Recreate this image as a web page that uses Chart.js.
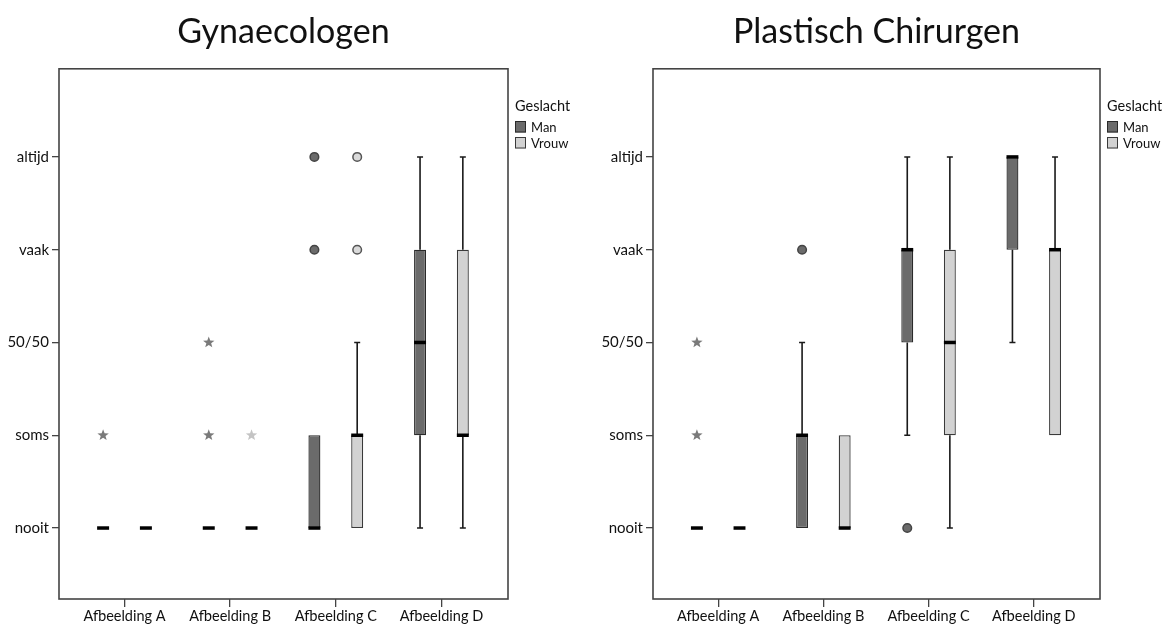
<!DOCTYPE html>
<html>
<head>
<meta charset="utf-8">
<script src="https://cdn.jsdelivr.net/npm/chart.js@4/dist/chart.umd.min.js"></script>
<style>
  body { margin: 0; background: #fff; }
  canvas { position: absolute; top: 0; }
  #gynChart { left: 0; }
  #plaChart { left: 583px; }
</style>
</head>
<body>
<canvas id="gynChart" width="583" height="630"></canvas>
<canvas id="plaChart" width="584" height="630"></canvas>
<script>
const categories = ["Afbeelding A", "Afbeelding B", "Afbeelding C", "Afbeelding D"];
// answer scale: 1 = nooit ... 5 = altijd
const answerTicks = ["nooit", "soms", "50/50", "vaak", "altijd"];
const groups = ["Man", "Vrouw"];

// Gynaecologen
const gynManMin = [1, 1, 1, 1];
const gynManQ1 = [1, 1, 1, 2];
const gynManMedian = [1, 1, 1, 3];
const gynManQ3 = [1, 1, 2, 4];
const gynManMax = [1, 1, 2, 5];
const gynManOutliers = [[], [], [4, 5], []];
const gynManExtremes = [[2], [2, 3], [], []];

const gynVrouwMin = [1, 1, 1, 1];
const gynVrouwQ1 = [1, 1, 1, 2];
const gynVrouwMedian = [1, 1, 2, 2];
const gynVrouwQ3 = [1, 1, 2, 4];
const gynVrouwMax = [1, 1, 3, 5];
const gynVrouwOutliers = [[], [], [4, 5], []];
const gynVrouwExtremes = [[], [2], [], []];

// Plastisch Chirurgen
const plaManMin = [1, 1, 2, 3];
const plaManQ1 = [1, 1, 3, 4];
const plaManMedian = [1, 2, 4, 5];
const plaManQ3 = [1, 2, 4, 5];
const plaManMax = [1, 3, 5, 5];
const plaManOutliers = [[], [4], [1], []];
const plaManExtremes = [[2, 3], [], [], []];

const plaVrouwMin = [1, 1, 1, 2];
const plaVrouwQ1 = [1, 1, 2, 2];
const plaVrouwMedian = [1, 1, 3, 4];
const plaVrouwQ3 = [1, 2, 4, 4];
const plaVrouwMax = [1, 2, 5, 5];
const plaVrouwOutliers = [[], [], [], []];
const plaVrouwExtremes = [[], [], [], []];

const FONT = "Lato, 'Open Sans', sans-serif";
const colors = {
    Man: { fill: "#6b6b6b", border: "#2a2a2a", star: "#7a7a7a", dotFill: "#6b6b6b", dotBorder: "#444" },
    Vrouw: { fill: "#d2d2d2", border: "#3a3a3a", star: "#c4c4c4", dotFill: "#dadada", dotBorder: "#555" },
};

function makeDataset(label, mn, q1, med, q3, mx, outliers, extremes) {
    return {
        label: label,
        data: categories.map((c, i) => ({ x: i, y: [q1[i], q3[i]] })),
        stats: { min: mn, median: med, q1: q1, q3: q3, max: mx, outliers: outliers, extremes: extremes },
        backgroundColor: colors[label].fill,
        borderColor: colors[label].border,
        borderWidth: 1.3,
        borderSkipped: false,
        categoryPercentage: 0.81,
        barPercentage: 0.28,
    };
}

function drawStar(ctx, x, y, r) {
    ctx.beginPath();
    for (let k = 0; k < 10; k++) {
        const rad = k % 2 === 0 ? r : r * 0.42;
        const a = -Math.PI / 2 + k * Math.PI / 5;
        const px = x + rad * Math.cos(a), py = y + rad * Math.sin(a);
        if (k === 0) ctx.moveTo(px, py); else ctx.lineTo(px, py);
    }
    ctx.closePath();
    ctx.fill();
}

const boxPlotPlugin = {
    id: "boxPlot",
    beforeDatasetsDraw(chart) {
        const { ctx, chartArea } = chart;
        ctx.save();
        ctx.strokeStyle = "#444";
        ctx.lineWidth = 1.6;
        ctx.strokeRect(chartArea.left, chartArea.top, chartArea.right - chartArea.left, chartArea.bottom - chartArea.top);
        ctx.restore();
    },
    afterDatasetsDraw(chart) {
        const ctx = chart.ctx;
        const yScale = chart.scales.y;
        chart.data.datasets.forEach((ds, d) => {
            const s = ds.stats;
            const c = colors[ds.label];
            chart.getDatasetMeta(d).data.forEach((bar, j) => {
                const x = bar.x, w = bar.width;
                const py = v => yScale.getPixelForValue(v);
                ctx.save();
                ctx.strokeStyle = "#1a1a1a";
                ctx.lineWidth = 1.6;
                if (s.max[j] > s.q3[j]) {
                    ctx.beginPath();
                    ctx.moveTo(x, py(s.q3[j])); ctx.lineTo(x, py(s.max[j]));
                    ctx.moveTo(x - 3, py(s.max[j])); ctx.lineTo(x + 3, py(s.max[j]));
                    ctx.stroke();
                }
                if (s.min[j] < s.q1[j]) {
                    ctx.beginPath();
                    ctx.moveTo(x, py(s.q1[j])); ctx.lineTo(x, py(s.min[j]));
                    ctx.moveTo(x - 3, py(s.min[j])); ctx.lineTo(x + 3, py(s.min[j]));
                    ctx.stroke();
                }
                // median
                ctx.strokeStyle = "#000";
                ctx.lineWidth = 3.5;
                ctx.beginPath();
                ctx.moveTo(x - w / 2, py(s.median[j])); ctx.lineTo(x + w / 2, py(s.median[j]));
                ctx.stroke();
                // outliers
                ctx.lineWidth = 1.5;
                ctx.fillStyle = c.dotFill;
                ctx.strokeStyle = c.dotBorder;
                s.outliers[j].forEach(v => {
                    ctx.beginPath();
                    ctx.arc(x, py(v), 4.3, 0, Math.PI * 2);
                    ctx.fill(); ctx.stroke();
                });
                ctx.fillStyle = c.star;
                s.extremes[j].forEach(v => drawStar(ctx, x, py(v), 6));
                ctx.restore();
            });
        });
    },
    afterDraw(chart) {
        const { ctx, chartArea } = chart;
        const x0 = chartArea.right + 7;
        ctx.save();
        ctx.fillStyle = "#111";
        ctx.font = "14.5px " + FONT;
        ctx.textBaseline = "alphabetic";
        ctx.fillText("Geslacht", x0, 110.5);
        ctx.font = "13px " + FONT;
        ctx.textBaseline = "middle";
        chart.data.datasets.forEach((ds, d) => {
            const top = 121 + d * 16;
            ctx.fillStyle = ds.backgroundColor;
            ctx.fillRect(x0, top, 11, 11.5);
            ctx.strokeStyle = ds.borderColor;
            ctx.lineWidth = 1;
            ctx.strokeRect(x0 + 0.5, top + 0.5, 10, 10.5);
            ctx.fillStyle = "#111";
            ctx.fillText(ds.label, x0 + 16, top + 6.5);
        });
        ctx.restore();
    },
};

function makeChart(id, title, datasets, yWidth, rightPad) {
    return new Chart(document.getElementById(id), {
        type: "bar",
        data: { datasets: datasets },
        plugins: [boxPlotPlugin],
        options: {
            responsive: false,
            animation: false,
            devicePixelRatio: 1,
            layout: { padding: { left: 0, right: rightPad, top: 0, bottom: 0 } },
            plugins: {
                legend: { display: false },
                tooltip: { enabled: false },
                title: {
                    display: true,
                    text: title,
                    fullSize: false,
                    color: "#111",
                    font: { family: FONT, size: 34, weight: "normal" },
                    padding: { top: 12, bottom: 16 },
                },
            },
            scales: {
                x: {
                    type: "linear",
                    min: -0.62,
                    max: 3.63,
                    offset: false,
                    afterBuildTicks: s => { s.ticks = categories.map((c, i) => ({ value: i })); },
                    afterFit: s => { s.height = 31; },
                    ticks: {
                        callback: v => categories[v],
                        color: "#111",
                        padding: 1,
                        maxRotation: 0,
                        autoSkip: false,
                        font: { family: FONT, size: 14.5 },
                    },
                    grid: { display: true, offset: false, drawOnChartArea: false, drawTicks: true, tickLength: 8, color: "#444", lineWidth: 1.3 },
                    border: { display: false },
                },
                y: {
                    type: "linear",
                    min: 0.235,
                    max: 5.95,
                    beginAtZero: false,
                    afterBuildTicks: s => { s.ticks = answerTicks.map((t, i) => ({ value: i + 1 })); },
                    afterFit: s => { s.width = yWidth; },
                    ticks: {
                        callback: v => answerTicks[v - 1],
                        color: "#111",
                        padding: 3,
                        font: { family: FONT, size: 15 },
                    },
                    grid: { display: true, drawOnChartArea: false, drawTicks: true, tickLength: 7, color: "#444", lineWidth: 1.3 },
                    border: { display: false },
                },
            },
        },
    });
}

makeChart("gynChart", "Gynaecologen", [
    makeDataset(groups[0], gynManMin, gynManQ1, gynManMedian, gynManQ3, gynManMax, gynManOutliers, gynManExtremes),
    makeDataset(groups[1], gynVrouwMin, gynVrouwQ1, gynVrouwMedian, gynVrouwQ3, gynVrouwMax, gynVrouwOutliers, gynVrouwExtremes),
], 59, 75);

makeChart("plaChart", "Plastisch Chirurgen", [
    makeDataset(groups[0], plaManMin, plaManQ1, plaManMedian, plaManQ3, plaManMax, plaManOutliers, plaManExtremes),
    makeDataset(groups[1], plaVrouwMin, plaVrouwQ1, plaVrouwMedian, plaVrouwQ3, plaVrouwMax, plaVrouwOutliers, plaVrouwExtremes),
], 70, 67);
</script>
</body>
</html>
